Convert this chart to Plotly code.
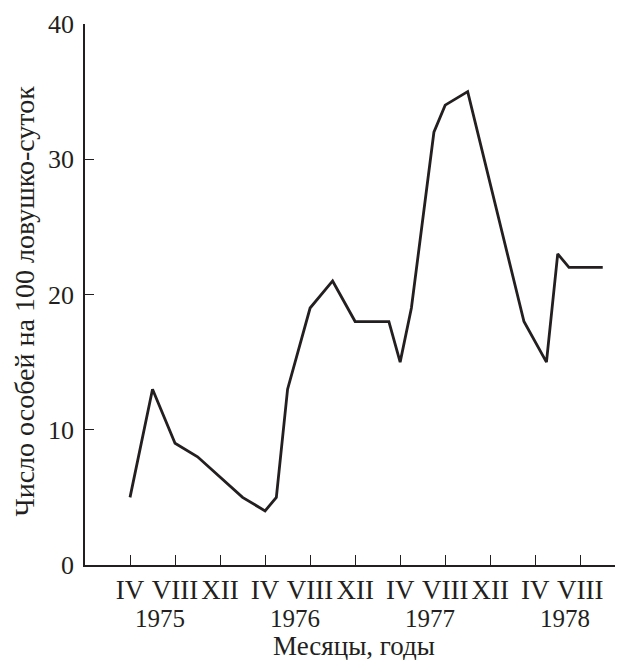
import plotly.graph_objects as go

# month index counted from January 1975 (0 = I 1975)
months = [3, 5, 7, 9, 13, 15, 16, 17, 19, 21, 23, 26, 27, 28, 30, 31, 33, 38, 40, 41, 42, 45]
counts = [5, 13, 9, 8, 5, 4, 5, 13, 19, 21, 18, 18, 15, 19, 32, 34, 35, 18, 15, 23, 22, 22]

tick_vals = [3, 7, 11, 15, 19, 23, 27, 31, 35, 39, 43]
tick_text = ["IV", "VIII", "XII", "IV", "VIII", "XII", "IV", "VIII", "XII", "IV", "VIII"]
years = ["1975", "1976", "1977", "1978"]
year_pos = [5.65, 17.65, 29.65, 41.65]

FONT = "Liberation Serif, Times New Roman, serif"
INK = "#231f20"
FS = 25

fig = go.Figure()
fig.add_trace(go.Scatter(x=months, y=counts, mode="lines",
                         line=dict(color=INK, width=2.8), showlegend=False))

for yr, xp in zip(years, year_pos):
    fig.add_annotation(x=xp, y=0, xref="x", yref="paper", yshift=-53,
                       yanchor="middle", text=yr, showarrow=False,
                       font=dict(family=FONT, size=FS, color=INK))

fig.add_annotation(x=0.5, y=0, xref="paper", yref="paper", yshift=-81,
                   yanchor="middle", text="Месяцы, годы", showarrow=False,
                   font=dict(family=FONT, size=27, color=INK))
fig.add_annotation(x=0, y=0.5, xref="paper", yref="paper", xshift=-61, yshift=-7,
                   xanchor="center", yanchor="middle", textangle=-90,
                   text="Число особей на 100 ловушко-суток", showarrow=False,
                   font=dict(family=FONT, size=28, color=INK))

fig.update_layout(
    width=623, height=660,
    margin=dict(l=77, r=8, t=16, b=103, autoexpand=False),
    plot_bgcolor="white", paper_bgcolor="white",
    font=dict(family=FONT, size=FS, color=INK),
    xaxis=dict(range=[-1.0, 46.8], tickvals=tick_vals, ticktext=tick_text,
               ticks="inside", ticklen=10, tickwidth=1.3, tickcolor=INK,
               showline=True, linecolor=INK, linewidth=1.5, showgrid=False,
               zeroline=False, tickangle=0, automargin=False,
               tickfont=dict(family=FONT, size=27, color=INK)),
    yaxis=dict(range=[0, 40], tickvals=[0, 10, 20, 30, 40],
               ticks="inside", ticklen=9, tickwidth=1.3, tickcolor=INK,
               showline=True, linecolor=INK, linewidth=1.5, showgrid=False,
               zeroline=False, automargin=False, ticklabelstandoff=4,
               tickfont=dict(family=FONT, size=26, color=INK)),
)

fig.write_html("out.html")
